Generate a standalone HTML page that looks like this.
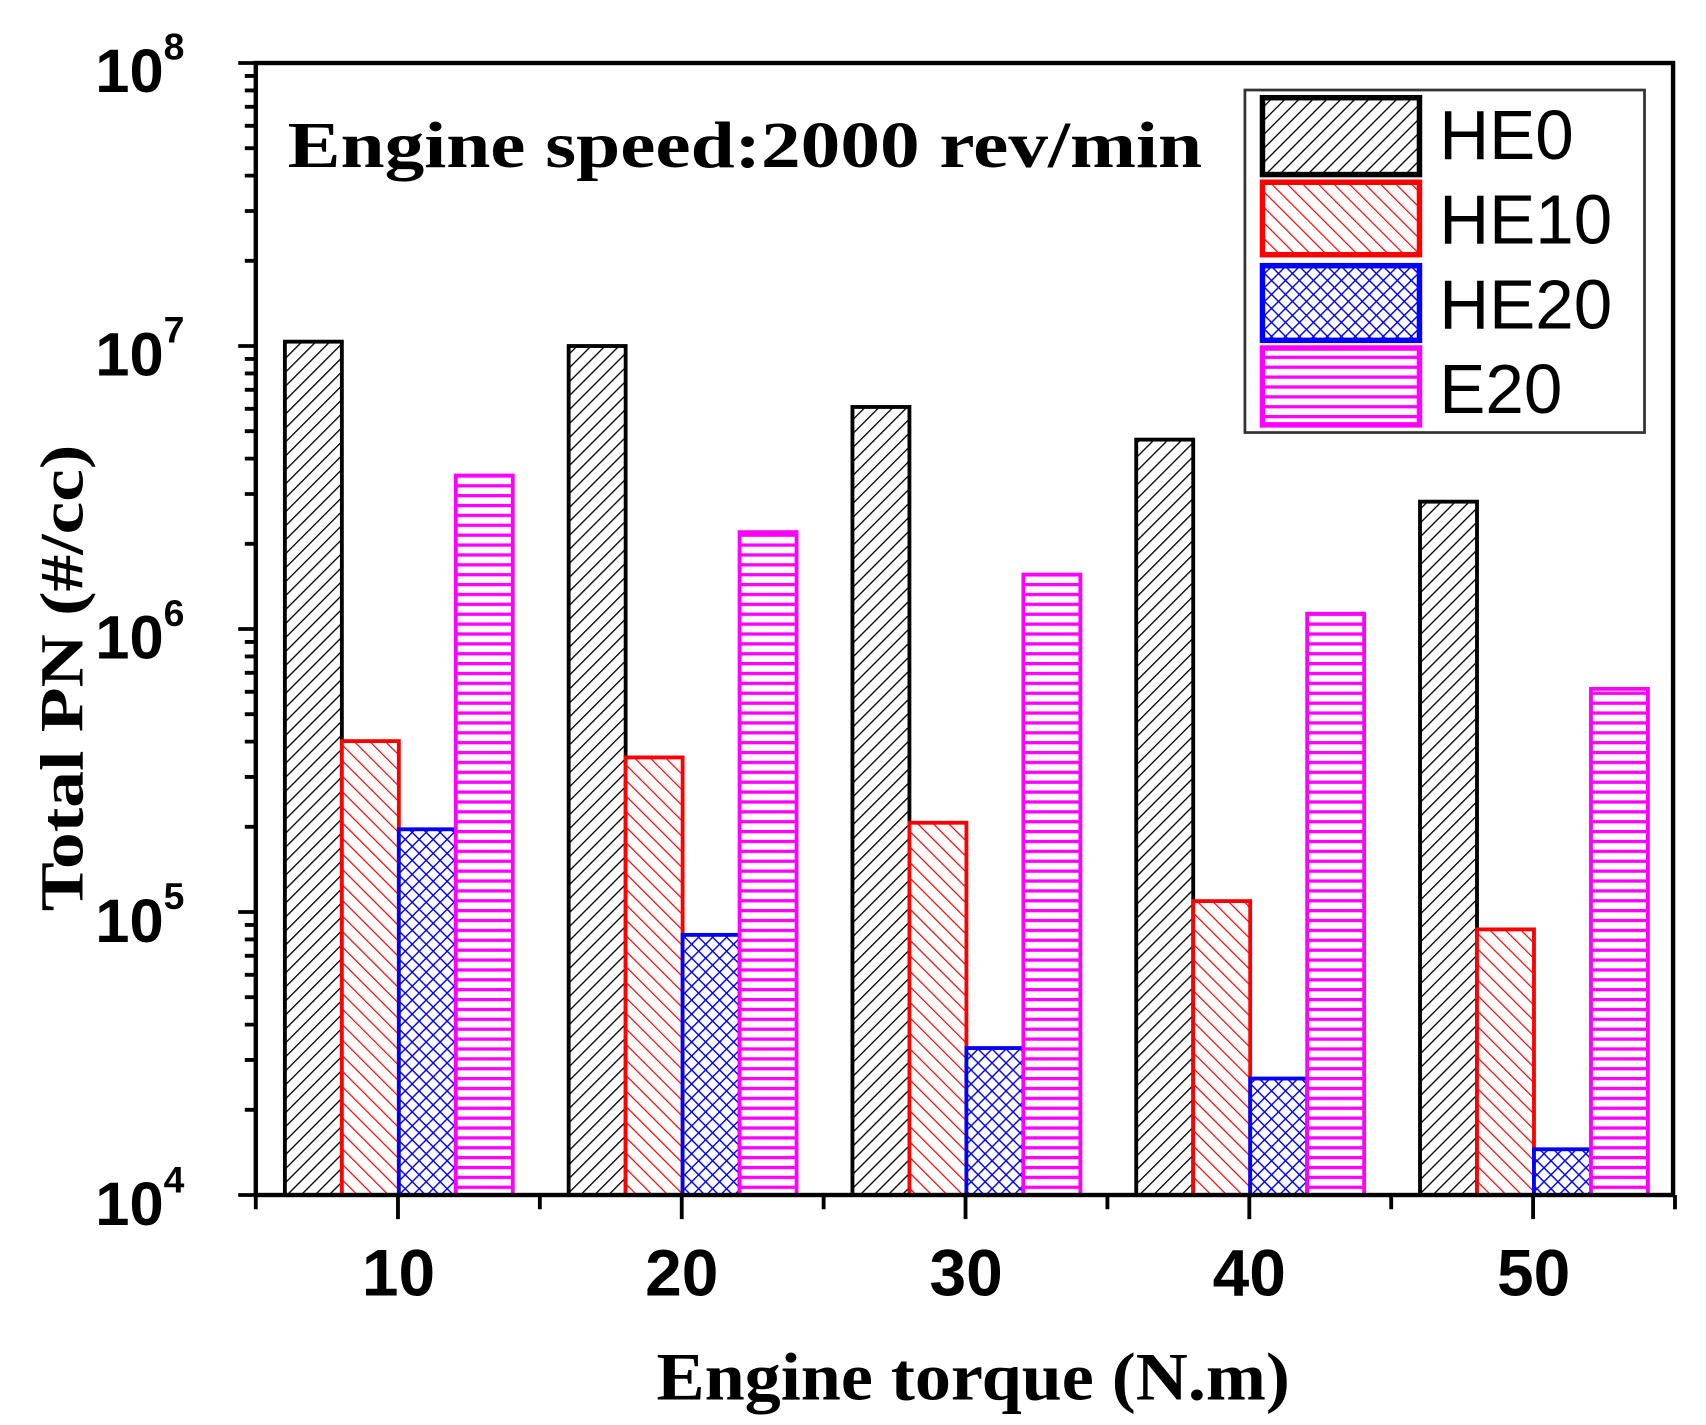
<!DOCTYPE html>
<html><head><meta charset="utf-8"><style>html,body{margin:0;padding:0;background:#fff}svg{display:block}</style></head>
<body>
<svg width="1706" height="1425" viewBox="0 0 1554 1298" preserveAspectRatio="none" xmlns="http://www.w3.org/2000/svg">
<defs>
<pattern id="pk" width="9" height="9" patternUnits="userSpaceOnUse" patternTransform="rotate(45)"><rect width="9" height="9" fill="#fff"/><line x1="0" y1="0" x2="0" y2="9" stroke="#000" stroke-width="2.4"/></pattern>
<pattern id="pr" width="10" height="10" patternUnits="userSpaceOnUse" patternTransform="rotate(-45)"><rect width="10" height="10" fill="#fff"/><line x1="0" y1="0" x2="0" y2="10" stroke="#f00" stroke-width="2.2"/></pattern>
<pattern id="pb" width="9" height="9" patternUnits="userSpaceOnUse" patternTransform="rotate(45)"><rect width="9" height="9" fill="#fff"/><line x1="0" y1="0" x2="0" y2="9" stroke="#00f" stroke-width="2.6"/><line x1="0" y1="0" x2="9" y2="0" stroke="#00f" stroke-width="2.6"/></pattern>
<pattern id="pm" width="10" height="9" patternUnits="userSpaceOnUse"><rect width="10" height="9" fill="#fff"/><line x1="0" y1="1.5" x2="10" y2="1.5" stroke="#f0f" stroke-width="3"/></pattern>
</defs>
<g id="bars"></g>
<script>
(function(){
var ns="http://www.w3.org/2000/svg",g=document.getElementById('bars');
var T=57.4,B=1088.5,D=(B-T)/4,L=233,R=1524,X0=362.5,S=258.5;
function cy(y){return T+(y-57)*D/260;}
var tops=[[313,680,761,436],[317,695,858,488],[373,755,962,527],[403,827,990,563],[460,853,1055,632]];
var fills=['url(#pk)','url(#pr)','url(#pb)','url(#pm)'],strokes=['#000','#f00','#00f','#f0f'];
for(var i=0;i<5;i++){var c=X0+i*S;for(var j=0;j<4;j++){var x=c-103+j*51.9;var t=cy(tops[i][j]);var r=document.createElementNS(ns,'rect');
r.setAttribute('x',x);r.setAttribute('y',t);r.setAttribute('width',51.9);r.setAttribute('height',B-t);
r.setAttribute('fill',fills[j]);r.setAttribute('stroke',strokes[j]);r.setAttribute('stroke-width',3.5);g.appendChild(r);}}
var d='';
for(var k=0;k<4;k++){var y0=T+k*D;for(var m=2;m<=9;m++){var y=y0+D*(1-Math.log10(m));d+='M'+L+' '+y+'H'+(L-10);}}
for(var k=0;k<5;k++){d+='M'+L+' '+(T+k*D)+'H'+(L-16);}
for(var i=0;i<5;i++){d+='M'+(X0+i*S)+' '+B+'V'+(B+22);d+='M'+(X0+S/2+i*S)+' '+B+'V'+(B+13);}
d+='M'+L+' '+B+'V'+(B+13);
var p=document.createElementNS(ns,'path');p.setAttribute('d',d);p.setAttribute('stroke','#000');p.setAttribute('stroke-width',3.5);p.setAttribute('fill','none');g.appendChild(p);
var f=document.createElementNS(ns,'rect');f.setAttribute('x',L);f.setAttribute('y',T);f.setAttribute('width',R-L);f.setAttribute('height',B-T);f.setAttribute('fill','none');f.setAttribute('stroke','#000');f.setAttribute('stroke-width',4);g.appendChild(f);
})();
</script>
<g font-family="Liberation Sans, sans-serif" font-weight="bold" font-size="56" fill="#000" text-anchor="end">
<text x="168" y="84">10<tspan font-size="34" dy="-30">8</tspan></text>
<text x="168" y="342">10<tspan font-size="34" dy="-30">7</tspan></text>
<text x="168" y="600">10<tspan font-size="34" dy="-30">6</tspan></text>
<text x="168" y="858">10<tspan font-size="34" dy="-30">5</tspan></text>
<text x="168" y="1116">10<tspan font-size="34" dy="-30">4</tspan></text>
</g>
<g font-family="Liberation Sans, sans-serif" font-weight="bold" font-size="60" text-anchor="middle">
<text x="363" y="1180">10</text><text x="621" y="1180">20</text><text x="880" y="1180">30</text><text x="1138" y="1180">40</text><text x="1397" y="1180">50</text>
</g>
<text x="598" y="1275" textLength="577" lengthAdjust="spacingAndGlyphs" font-family="Liberation Serif, serif" font-weight="bold" font-size="62">Engine torque (N.m)</text>
<text transform="translate(75,830) rotate(-90)" textLength="425" lengthAdjust="spacingAndGlyphs" font-family="Liberation Serif, serif" font-weight="bold" font-size="56">Total PN  (#/cc)</text>
<text x="262" y="152" textLength="833" lengthAdjust="spacingAndGlyphs" font-family="Liberation Serif, serif" font-weight="bold" font-size="60">Engine speed:2000 rev/min</text>
<rect x="1134" y="82" width="364" height="312" fill="#fff" stroke="#333" stroke-width="2.5"/>
<rect x="1150" y="89" width="143" height="70" fill="url(#pk)" stroke="#000" stroke-width="5"/>
<rect x="1150" y="166" width="143" height="66" fill="url(#pr)" stroke="#f00" stroke-width="5"/>
<rect x="1150" y="242" width="143" height="68" fill="url(#pb)" stroke="#00f" stroke-width="5"/>
<rect x="1150" y="317" width="143" height="70" fill="url(#pm)" stroke="#f0f" stroke-width="5"/>
<g font-family="Liberation Sans, sans-serif" font-size="63" fill="#000">
<text x="1311" y="145">HE0</text><text x="1311" y="222">HE10</text><text x="1311" y="299">HE20</text><text x="1311" y="376">E20</text>
</g>
</svg>
</body></html>
